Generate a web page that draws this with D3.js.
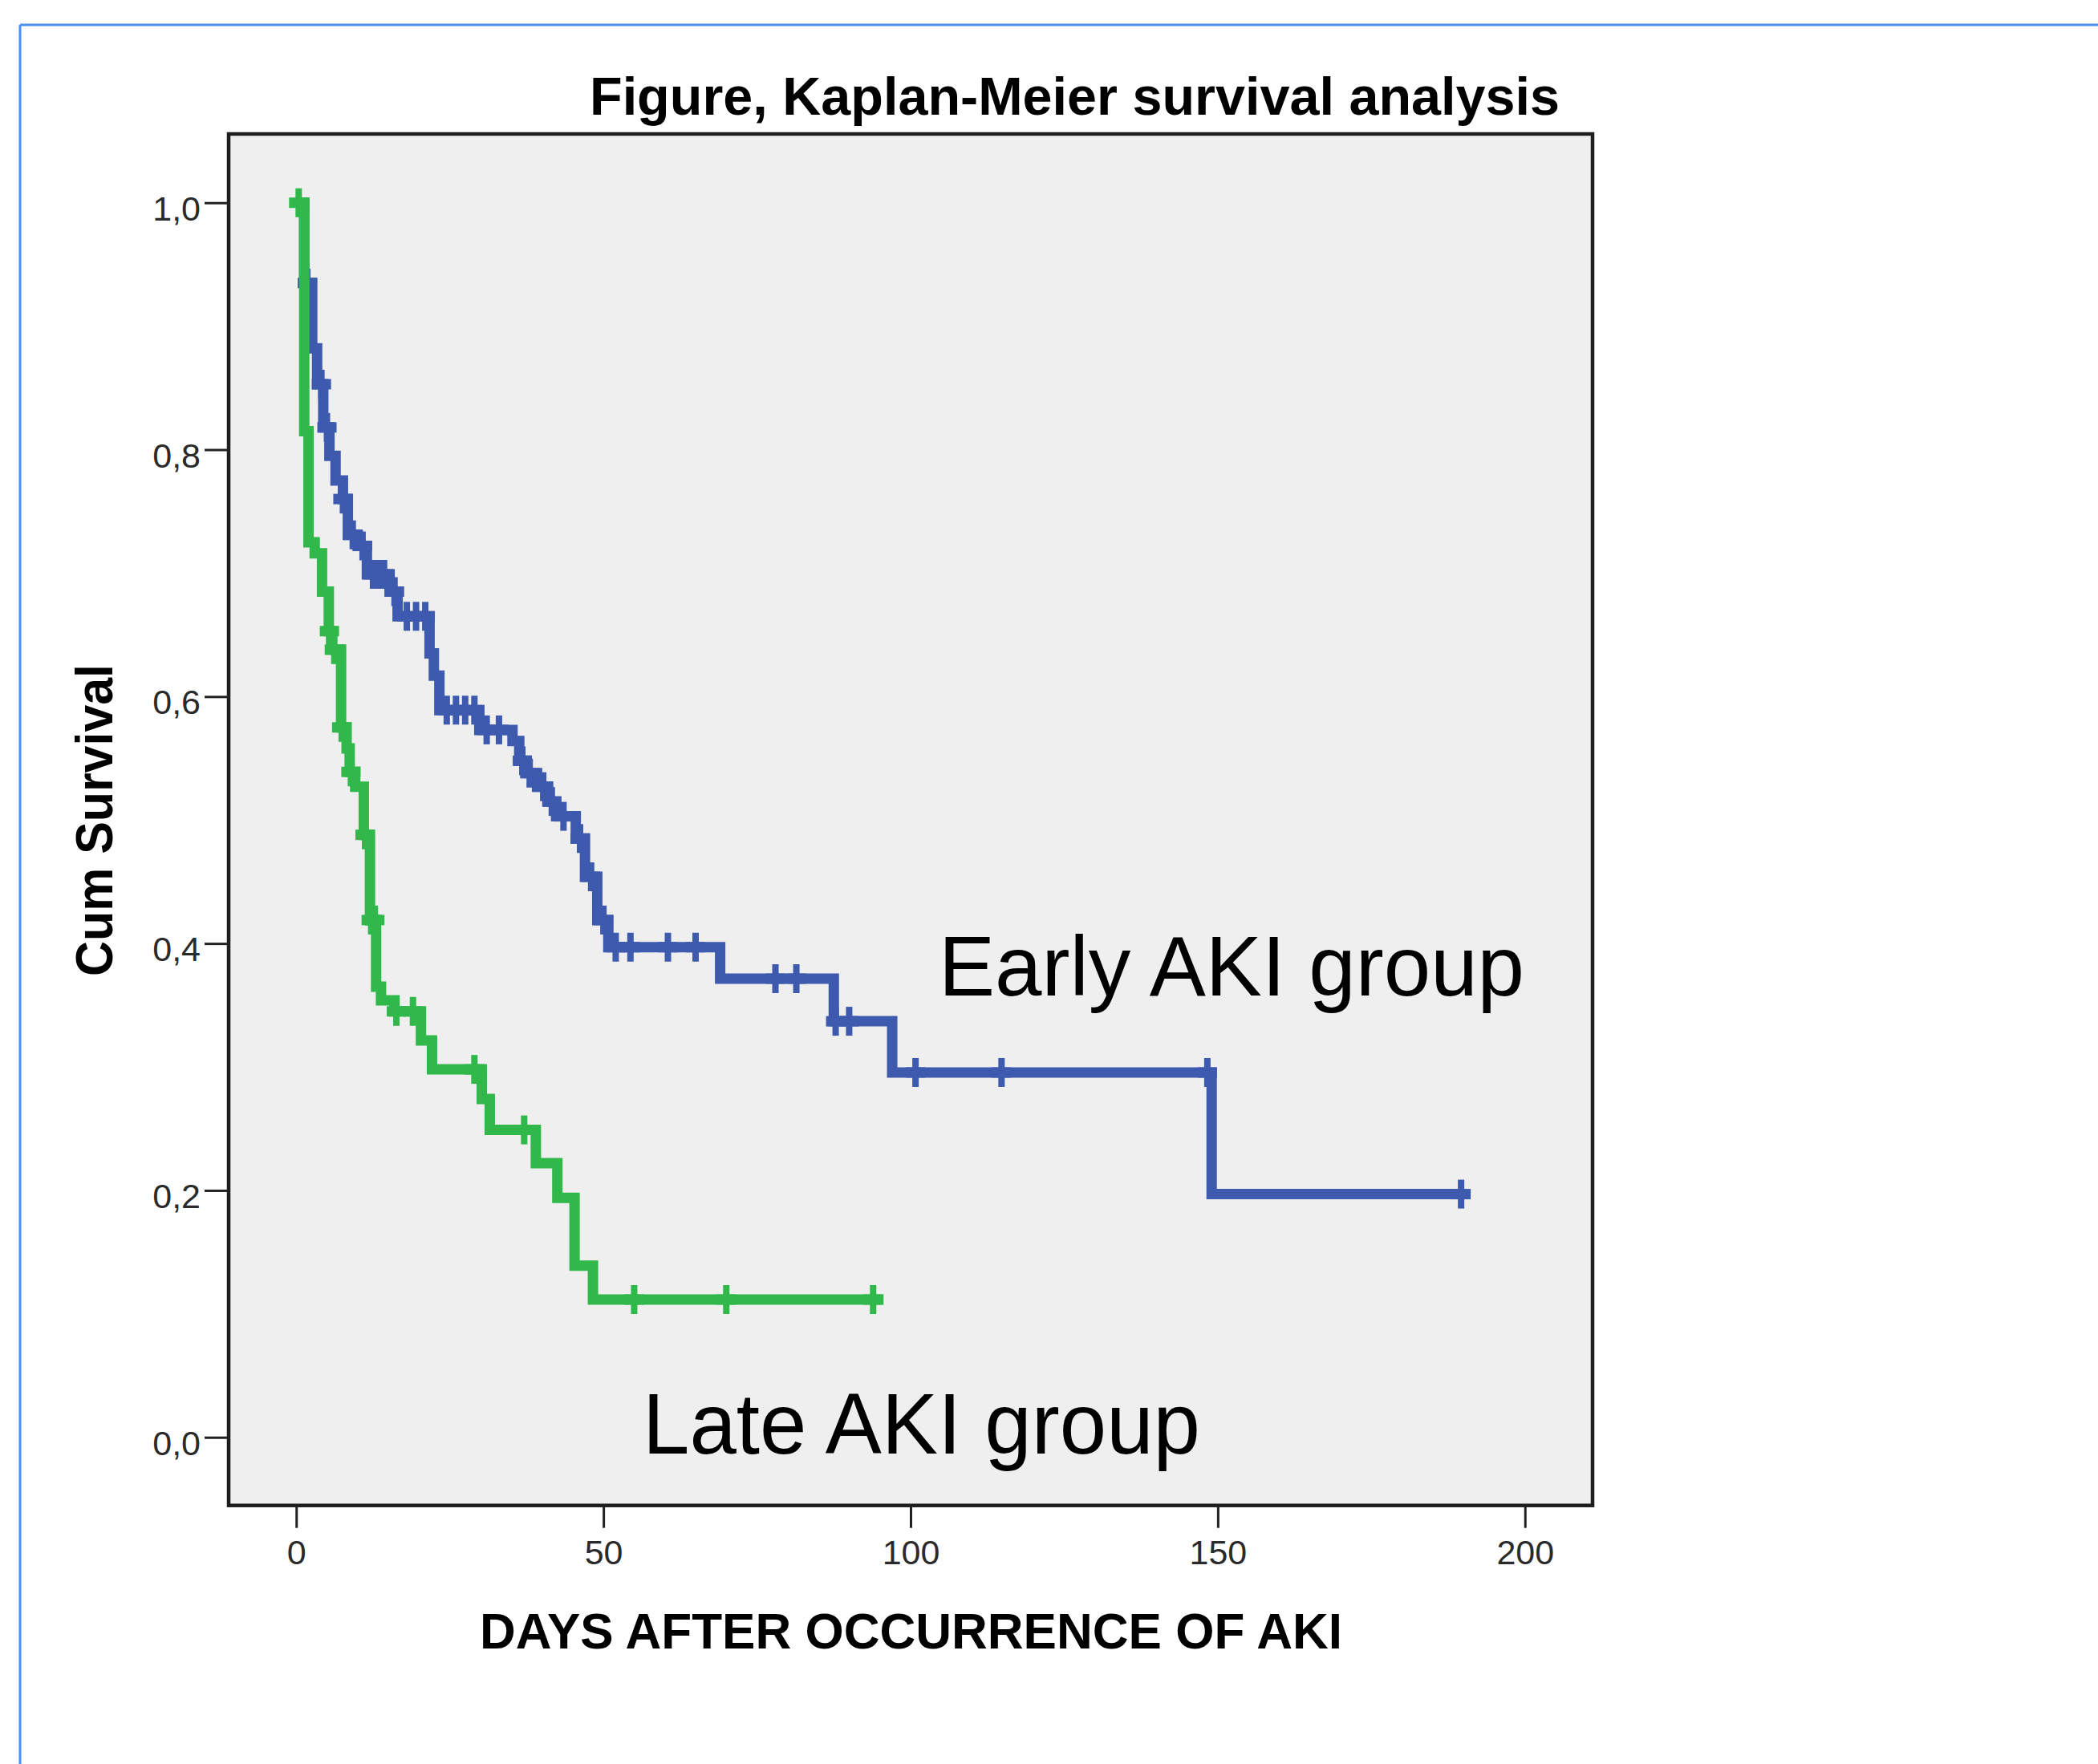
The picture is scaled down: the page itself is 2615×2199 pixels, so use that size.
<!DOCTYPE html>
<html>
<head>
<meta charset="utf-8">
<script src="https://cdn.jsdelivr.net/npm/d3@7"></script>
<style>
  body { margin: 0; background: #fff; }
  svg { display: block; font-family: "Liberation Sans", Arial, sans-serif; }
</style>
</head>
<body>
<svg id="chart" width="2615" height="2199"></svg>
<script>
// Kaplan-Meier curves (days, cumulative survival after each death)
const earlyTimes = [1.3, 2.6, 3.4, 4.4, 5.4, 6.4, 7.6, 8.4, 10.0, 11.5, 15.2, 16.5, 21.7, 22.4, 23.3, 29.8, 35.2, 36.3, 37.5, 39.2, 41.0, 42.3, 45.5, 47.0, 49.0, 50.8, 69.0, 87.5, 97.0, 149.0];
const earlySurv = [0.935, 0.882, 0.853, 0.818, 0.795, 0.775, 0.760, 0.731, 0.722, 0.699, 0.685, 0.665, 0.635, 0.617, 0.589, 0.573, 0.564, 0.548, 0.538, 0.527, 0.515, 0.503, 0.485, 0.454, 0.419, 0.397, 0.3715, 0.337, 0.2955, 0.197];
const earlyCensored = [1.8, 4.1, 5.0, 7.6, 9.2, 10.8, 12.5, 13.5, 14.3, 16.0, 18.0, 19.5, 21.0, 24.5, 26.0, 27.5, 29.0, 31.0, 33.0, 36.8, 38.0, 40.2, 41.6, 43.5, 46.2, 48.0, 50.0, 52.0, 54.4, 60.5, 65.0, 78.0, 81.4, 87.8, 90.0, 100.8, 114.8, 148.3, 189.6];
const earlyEnd = 190.5;

const lateTimes = [1.3, 2.0, 3.0, 4.2, 5.3, 5.7, 7.3, 8.2, 8.7, 9.6, 11.0, 12.0, 13.0, 13.8, 16.0, 20.3, 22.1, 30.2, 31.5, 39.0, 42.5, 45.3, 48.3];
const lateSurv = [0.815, 0.725, 0.716, 0.685, 0.653, 0.638, 0.575, 0.558, 0.539, 0.527, 0.488, 0.419, 0.365, 0.354, 0.345, 0.3215, 0.298, 0.274, 0.249, 0.222, 0.194, 0.139, 0.1116];
const lateCensored = [0.4, 5.4, 6.2, 7.4, 8.9, 11.2, 12.2, 12.8, 16.3, 19.0, 29.0, 37.1, 55.0, 70.0, 93.9];
const lateEnd = 95.6;

const xTicks = [0, 50, 100, 150, 200];
const yTicks = [0, 0.2, 0.4, 0.6, 0.8, 1.0];

const blue = "#3e5aae";
const green = "#30b84a";

const svg = d3.select("#chart");

// outer blue frame of the screenshot
svg.append("line").attr("x1", 25).attr("y1", 31).attr("x2", 2615).attr("y2", 31)
  .attr("stroke", "#4d8ff0").attr("stroke-width", 3);
svg.append("line").attr("x1", 25).attr("y1", 31).attr("x2", 25).attr("y2", 2199)
  .attr("stroke", "#4d8ff0").attr("stroke-width", 3);

const x = d3.scaleLinear().domain([-11, 211]).range([285, 1985]);
const y = d3.scaleLinear().domain([-0.0552, 1.0557]).range([1876.7, 167]);

// plot area
svg.append("rect")
  .attr("x", x.range()[0]).attr("y", y.range()[1])
  .attr("width", x.range()[1] - x.range()[0])
  .attr("height", y.range()[0] - y.range()[1])
  .attr("fill", "#efefef").attr("stroke", "#1e1e1e").attr("stroke-width", 4.5);

// axes
const fmt = d => d3.format(".1f")(d).replace(".", ",");
const yAxis = svg.append("g")
  .attr("transform", `translate(${x.range()[0]},0)`)
  .call(d3.axisLeft(y).tickValues(yTicks).tickFormat(fmt).tickSize(30).tickPadding(5));
const xAxis = svg.append("g")
  .attr("transform", `translate(0,${y.range()[0]})`)
  .call(d3.axisBottom(x).tickValues(xTicks).tickSize(28).tickPadding(15));

[yAxis, xAxis].forEach(g => {
  g.select(".domain").remove();
  g.selectAll(".tick line").attr("stroke", "#222").attr("stroke-width", 3);
  g.selectAll(".tick text").attr("fill", "#2a2a2a").attr("font-size", 43)
    .attr("font-family", "'Liberation Sans', Arial, sans-serif");
});
yAxis.selectAll(".tick text").attr("dy", "0.5em");

// step curves
function survAt(times, surv, t) {
  let s = 1;
  times.forEach((ti, i) => { if (ti <= t) s = surv[i]; });
  return s;
}

function drawGroup(times, surv, censored, end, color) {
  const pts = [{ t: 0, s: 1 }].concat(times.map((t, i) => ({ t: t, s: surv[i] })));
  pts.push({ t: end, s: surv[surv.length - 1] });

  const line = d3.line().x(d => x(d.t)).y(d => y(d.s)).curve(d3.curveStepAfter);
  const g = svg.append("g");
  g.append("path").datum(pts)
    .attr("d", line)
    .attr("fill", "none").attr("stroke", color)
    .attr("stroke-width", 13).attr("stroke-linejoin", "miter");

  // censor marks (+)
  const marks = g.selectAll(".cens").data(censored).enter().append("g")
    .attr("class", "cens")
    .attr("transform", d => `translate(${x(d)},${y(survAt(times, surv, d))})`);
  marks.append("line").attr("x1", 0).attr("x2", 0).attr("y1", -18).attr("y2", 18)
    .attr("stroke", color).attr("stroke-width", 8);
  marks.append("line").attr("x1", -12).attr("x2", 12).attr("y1", 0).attr("y2", 0)
    .attr("stroke", color).attr("stroke-width", 13);
}

drawGroup(earlyTimes, earlySurv, earlyCensored, earlyEnd, blue);
drawGroup(lateTimes, lateSurv, lateCensored, lateEnd, green);

// texts
svg.append("text").attr("x", 735).attr("y", 143)
  .attr("font-size", 66).attr("font-weight", "bold")
  .attr("textLength", 1209).attr("lengthAdjust", "spacingAndGlyphs")
  .text("Figure, Kaplan-Meier survival analysis");

svg.append("text").attr("x", 598).attr("y", 2055)
  .attr("font-size", 63).attr("font-weight", "bold")
  .attr("textLength", 1075).attr("lengthAdjust", "spacingAndGlyphs")
  .text("DAYS AFTER OCCURRENCE OF AKI");

svg.append("text").attr("transform", "translate(140,1022.5) rotate(-90)")
  .attr("text-anchor", "middle")
  .attr("font-size", 65).attr("font-weight", "bold")
  .attr("textLength", 389).attr("lengthAdjust", "spacingAndGlyphs")
  .text("Cum Survival");

svg.append("text").attr("x", 1170).attr("y", 1241)
  .attr("font-size", 105)
  .attr("textLength", 730).attr("lengthAdjust", "spacingAndGlyphs")
  .text("Early AKI group");

svg.append("text").attr("x", 801).attr("y", 1812)
  .attr("font-size", 107)
  .attr("textLength", 695).attr("lengthAdjust", "spacingAndGlyphs")
  .text("Late AKI group");
</script>
</body>
</html>
